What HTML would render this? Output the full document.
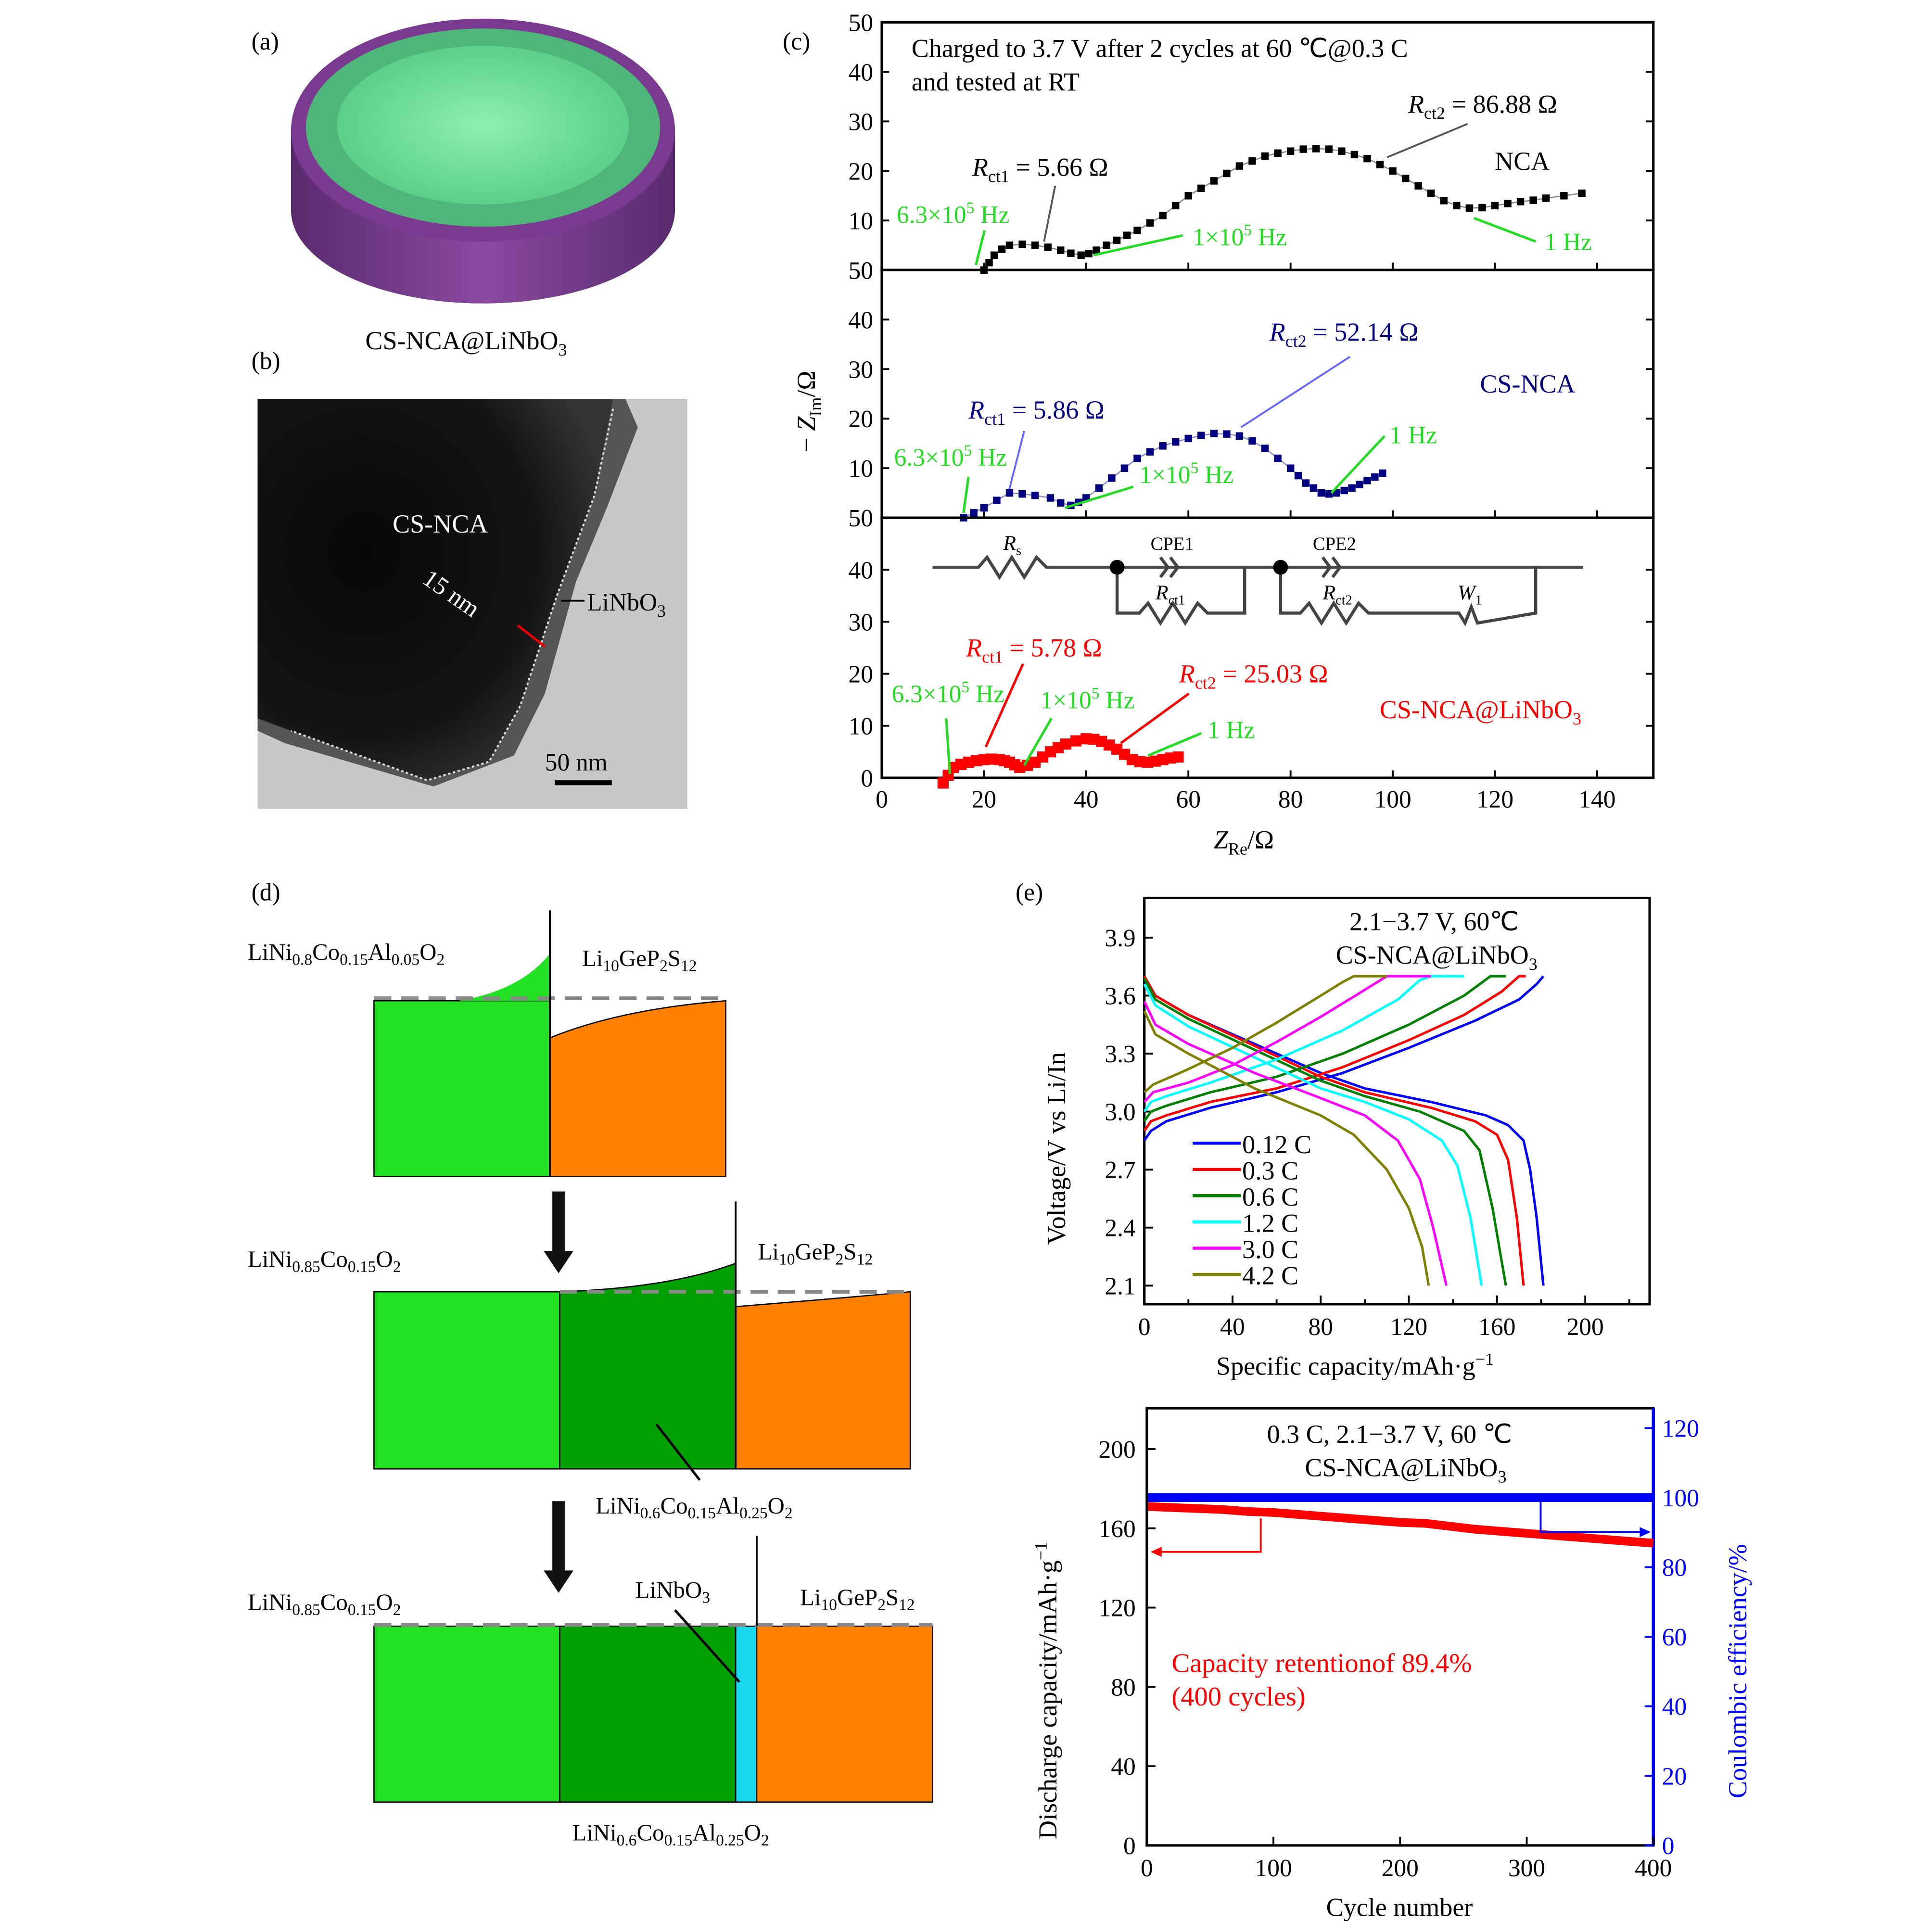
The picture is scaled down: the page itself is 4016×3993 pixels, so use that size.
<!DOCTYPE html>
<html><head><meta charset="utf-8"><style>
html,body{margin:0;padding:0;background:#fff}
svg{display:block}
text{font-family:"Liberation Serif",serif}
</style></head><body>
<svg id="s" width="4016" height="3993" viewBox="0 0 1560 1551" xmlns="http://www.w3.org/2000/svg">
<defs>
<radialGradient id="gtop" cx="50%" cy="50%" r="50%"><stop offset="0" stop-color="#8ef0b0"/><stop offset="1" stop-color="#5ccf8a"/></radialGradient>
<linearGradient id="gside" x1="0" y1="0" x2="1" y2="0"><stop offset="0" stop-color="#5a2a6e"/><stop offset="0.5" stop-color="#8a4aa0"/><stop offset="1" stop-color="#5a2a6e"/></linearGradient>
<radialGradient id="tem" cx="30%" cy="40%" r="70%"><stop offset="0" stop-color="#080808"/><stop offset="0.7" stop-color="#141414"/><stop offset="1" stop-color="#333"/></radialGradient>
</defs>
<!-- (a) -->
<text x="203" y="40" font-size="20">(a)</text>
<g>
<path d="M235,105 L235,170 A155,75 0 0 0 545,170 L545,105 Z" fill="url(#gside)"/>
<ellipse cx="390" cy="105" rx="155" ry="90" fill="#7a3a90"/>
<ellipse cx="390" cy="103" rx="143" ry="80" fill="#4fb67a"/>
<ellipse cx="390" cy="101" rx="118" ry="64" fill="url(#gtop)"/>
</g>
<text x="295" y="282" font-size="21">CS-NCA@LiNbO<tspan font-size="14" dy="5">3</tspan></text>
<!-- (b) -->
<text x="203" y="298" font-size="20">(b)</text>
<g>
<rect x="208" y="322" width="347" height="331" fill="#c8c8c8"/>
<path d="M208,322 L505,322 L515,345 L490,410 L465,470 L440,560 L415,610 L350,635 L230,600 L208,590 Z" fill="#555"/>
<path d="M208,322 L495,322 L480,400 L450,480 L420,570 L395,615 L345,630 L235,590 L208,580 Z" fill="url(#tem)"/>
<path d="M495,330 L480,400 L450,480 L420,570 L395,615 L345,630 L235,590" fill="none" stroke="#ddd" stroke-width="1.5" stroke-dasharray="2,2"/>
<text x="317" y="430" font-size="21" fill="#fff">CS-NCA</text>
<text x="340" y="470" font-size="20" fill="#fff" transform="rotate(35 340 470)">15 nm</text>
<line x1="418" y1="505" x2="440" y2="522" stroke="#e00" stroke-width="2"/>
<text x="474" y="493" font-size="20">LiNbO<tspan font-size="14" dy="5">3</tspan></text>
<line x1="453" y1="485" x2="472" y2="485" stroke="#000" stroke-width="1.5"/>
<text x="440" y="622" font-size="20">50 nm</text>
<rect x="448" y="630" width="46" height="4" fill="#000"/>
</g>
<!-- (c) -->
<text x="632" y="40" font-size="20">(c)</text>
<g id="eis"></g>
<!-- (d) -->
<text x="203" y="727" font-size="20">(d)</text>
<g>
<rect x="302" y="808" width="142" height="142" fill="#22e022" stroke="#000"/>
<path d="M302,808 L370,808 Q420,800 444,770 L444,808 Z" fill="#22e022"/>
<path d="M444,838 Q500,815 586,808 L586,950 L444,950 Z" fill="#ff7f00" stroke="#000"/>
<line x1="302" y1="806" x2="586" y2="806" stroke="#888" stroke-width="3" stroke-dasharray="14,8"/>
<line x1="444" y1="735" x2="444" y2="950" stroke="#000" stroke-width="1.5"/>
<text x="200" y="775" font-size="19">LiNi<tspan font-size="13" dy="4">0.8</tspan><tspan dy="-4">Co</tspan><tspan font-size="13" dy="4">0.15</tspan><tspan dy="-4">Al</tspan><tspan font-size="13" dy="4">0.05</tspan><tspan dy="-4">O</tspan><tspan font-size="13" dy="4">2</tspan></text>
<text x="470" y="780" font-size="19">Li<tspan font-size="13" dy="4">10</tspan><tspan dy="-4">GeP</tspan><tspan font-size="13" dy="4">2</tspan><tspan dy="-4">S</tspan><tspan font-size="13" dy="4">12</tspan></text>
<polygon points="446,962 456,962 456,1010 463,1010 451,1028 439,1010 446,1010" fill="#111"/>
<rect x="302" y="1043" width="150" height="143" fill="#22e022" stroke="#000"/>
<path d="M452,1043 Q540,1040 594,1020 L594,1186 L452,1186 Z" fill="#00a000" stroke="#000"/>
<path d="M594,1055 Q680,1048 735,1043 L735,1186 L594,1186 Z" fill="#ff7f00" stroke="#000"/>
<line x1="452" y1="1043" x2="735" y2="1043" stroke="#888" stroke-width="3" stroke-dasharray="14,8"/>
<line x1="594" y1="970" x2="594" y2="1186" stroke="#000" stroke-width="1.5"/>
<line x1="565" y1="1195" x2="530" y2="1150" stroke="#000" stroke-width="2"/>
<text x="200" y="1023" font-size="19">LiNi<tspan font-size="13" dy="4">0.85</tspan><tspan dy="-4">Co</tspan><tspan font-size="13" dy="4">0.15</tspan><tspan dy="-4">O</tspan><tspan font-size="13" dy="4">2</tspan></text>
<text x="612" y="1017" font-size="19">Li<tspan font-size="13" dy="4">10</tspan><tspan dy="-4">GeP</tspan><tspan font-size="13" dy="4">2</tspan><tspan dy="-4">S</tspan><tspan font-size="13" dy="4">12</tspan></text>
<text x="481" y="1222" font-size="19">LiNi<tspan font-size="13" dy="4">0.6</tspan><tspan dy="-4">Co</tspan><tspan font-size="13" dy="4">0.15</tspan><tspan dy="-4">Al</tspan><tspan font-size="13" dy="4">0.25</tspan><tspan dy="-4">O</tspan><tspan font-size="13" dy="4">2</tspan></text>
<polygon points="446,1212 456,1212 456,1268 463,1268 451,1286 439,1268 446,1268" fill="#111"/>
<rect x="302" y="1313" width="150" height="142" fill="#22e022" stroke="#000"/>
<rect x="452" y="1313" width="142" height="142" fill="#00a000" stroke="#000"/>
<rect x="594" y="1313" width="17" height="142" fill="#19d8ee" stroke="#000"/>
<rect x="611" y="1313" width="142" height="142" fill="#ff7f00" stroke="#000"/>
<line x1="302" y1="1312" x2="753" y2="1312" stroke="#888" stroke-width="3" stroke-dasharray="14,8"/>
<line x1="611" y1="1240" x2="611" y2="1313" stroke="#000" stroke-width="1.5"/>
<line x1="545" y1="1300" x2="597" y2="1358" stroke="#000" stroke-width="2"/>
<text x="200" y="1300" font-size="19">LiNi<tspan font-size="13" dy="4">0.85</tspan><tspan dy="-4">Co</tspan><tspan font-size="13" dy="4">0.15</tspan><tspan dy="-4">O</tspan><tspan font-size="13" dy="4">2</tspan></text>
<text x="513" y="1290" font-size="19">LiNbO<tspan font-size="13" dy="4">3</tspan></text>
<text x="646" y="1296" font-size="19">Li<tspan font-size="13" dy="4">10</tspan><tspan dy="-4">GeP</tspan><tspan font-size="13" dy="4">2</tspan><tspan dy="-4">S</tspan><tspan font-size="13" dy="4">12</tspan></text>
<text x="462" y="1486" font-size="19">LiNi<tspan font-size="13" dy="4">0.6</tspan><tspan dy="-4">Co</tspan><tspan font-size="13" dy="4">0.15</tspan><tspan dy="-4">Al</tspan><tspan font-size="13" dy="4">0.25</tspan><tspan dy="-4">O</tspan><tspan font-size="13" dy="4">2</tspan></text>
</g>
<!-- (e) -->
<text x="820" y="727" font-size="20">(e)</text>
<g id="volt"></g>
<g id="cyc"></g>
</svg>
<script>
// ---- EIS data ----
const nyqNCA = [[20,0],[21,1.5],[22,3],[23.5,4.2],[25,5],[27.5,5.2],[30,5],[32.5,4.6],[35,4],[37,3.4],[39,3],[40.5,3.3],[42,4],[44,5],[46,6],[48,7],[50,8],[52.5,9.5],[55,11],[57.5,13],[60,15],[62.5,16.5],[65,18],[67.5,19.5],[70,21],[72.5,22],[75,23],[77.5,23.6],[80,24],[82.5,24.4],[85,24.5],[87.5,24.4],[90,24],[92.5,23.3],[95,22.5],[97.5,21.3],[100,20],[102.5,18.5],[105,17],[107.5,15.5],[110,14],[112.5,13],[115,12.5],[117.5,12.6],[120,13],[122.5,13.4],[125,13.8],[127.5,14.1],[130,14.5],[133.5,15],[137,15.5]];
const nyqCS = [[16,0],[18,1],[20,2],[22.5,3.5],[25,5],[27.5,4.8],[30,4.5],[33,4],[35,3],[37,2.5],[38.5,3.1],[40,4],[42.5,6],[45,8],[47.5,10],[50,12],[52.5,13.3],[55,14.5],[57.5,15.3],[60,16],[62.5,16.6],[65,17],[67.5,16.9],[70,16.5],[72.5,15.5],[75,14],[77.5,12],[80,10],[81.5,8.5],[83,7],[84.5,6],[86,5],[87.5,4.8],[89,5],[90.5,5.5],[92,6],[93.5,6.7],[95,7.5],[96.5,8.2],[98,9]];
const nyqLN = [[12,-1],[13,0.5],[14,2],[15.5,2.6],[17,3],[18.5,3.3],[20,3.5],[21.5,3.6],[23,3.5],[24,3.3],[25,3],[26,2.5],[27,2],[28.5,2.4],[30,3],[31.5,4],[33,5],[34.5,5.8],[36,6.5],[38,7.1],[40,7.5],[41.5,7.4],[43,7],[44.5,6.3],[46,5.5],[47.5,4.5],[49,3.5],[50.5,3.1],[52,3],[53.5,3.2],[55,3.5],[56.5,3.8],[58,4]];
const eisXTicks = [0,20,40,60,80,100,120,140];
const eisYTicks = [0,10,20,30,40,50];
// ---- Voltage data ----
const rates = ['0.12 C','0.3 C','0.6 C','1.2 C','3.0 C','4.2 C'];
const rateColors = ['#0000ff','#ff0000','#008000','#00ffff','#ff00ff','#808000'];
const charge = [
 [[0,2.85],[3,2.9],[10,2.95],[30,3.02],[60,3.1],[90,3.2],[120,3.33],[150,3.47],[170,3.58],[178,3.66],[181,3.7]],
 [[0,2.9],[3,2.95],[10,2.98],[30,3.05],[60,3.12],[90,3.23],[120,3.37],[145,3.5],[162,3.62],[170,3.7],[173,3.7]],
 [[0,2.95],[3,3.0],[10,3.03],[30,3.1],[60,3.18],[90,3.3],[120,3.45],[145,3.6],[157,3.7],[164,3.7]],
 [[0,3.0],[3,3.05],[10,3.08],[30,3.15],[60,3.27],[90,3.42],[115,3.58],[125,3.68],[130,3.7],[145,3.7]],
 [[0,3.05],[4,3.1],[20,3.15],[40,3.24],[60,3.36],[80,3.49],[100,3.63],[110,3.7],[130,3.7]],
 [[0,3.1],[4,3.14],[20,3.22],[40,3.33],[60,3.46],[80,3.6],[90,3.67],[95,3.7],[110,3.7]]];
const discharge = [
 [[0,3.7],[5,3.6],[20,3.5],[50,3.35],[80,3.2],[100,3.12],[130,3.05],[155,2.98],[165,2.93],[172,2.85],[175,2.7],[178,2.45],[181,2.1]],
 [[0,3.7],[5,3.6],[20,3.5],[50,3.34],[80,3.18],[100,3.1],[130,3.02],[150,2.95],[160,2.88],[165,2.75],[169,2.45],[172,2.1]],
 [[0,3.69],[5,3.58],[20,3.48],[50,3.32],[80,3.16],[100,3.08],[125,3.0],[145,2.9],[152,2.8],[158,2.5],[164,2.1]],
 [[0,3.66],[5,3.55],[20,3.44],[50,3.28],[80,3.12],[100,3.05],[120,2.96],[135,2.85],[142,2.72],[148,2.45],[153,2.1]],
 [[0,3.57],[5,3.45],[20,3.35],[50,3.2],[80,3.07],[100,2.98],[115,2.85],[125,2.65],[131,2.4],[137,2.1]],
 [[0,3.52],[5,3.4],[20,3.3],[50,3.12],[80,2.98],[95,2.88],[110,2.7],[120,2.5],[126,2.3],[129,2.1]]];
const vXTicks = [0,40,80,120,160,200];
const vYTicks = [2.1,2.4,2.7,3.0,3.3,3.6,3.9];
// ---- Cycling data ----
const cycNum = [1,20,40,60,80,100,120,140,160,180,200,220,240,260,280,300,320,340,360,380,400];
const capVals = [171,170.5,170,169.5,168.5,168,167,166,165,164,163,162.5,161,159.5,158.5,157.5,156.5,155.5,154.5,153.5,152.5];
const ceVals = [100,100,100,100,100,100,100,100,100,100,100,100,100,100,100,100,100,100,100,100,100];
const cXTicks = [0,100,200,300,400];
const cYTicks = [0,40,80,120,160,200];
const cY2Ticks = [0,20,40,60,80,100,120];

const NS='http://www.w3.org/2000/svg';
function mk(p,tag,attrs,txt){const e=document.createElementNS(NS,tag);for(const k in attrs)e.setAttribute(k,attrs[k]);if(txt!==undefined)e.textContent=txt;p.appendChild(e);return e;}
function pts(arr,sx,sy){return arr.map(d=>sx(d[0]).toFixed(1)+','+sy(d[1]).toFixed(1)).join(' ');}

// EIS
(function(){
 const g=document.getElementById('eis');
 const X0=712,X1=1335; const ex=v=>X0+v*(X1-X0)/151;
 const panels=[{top:18,bot:218,data:nyqNCA,col:'#000',name:'nca'},{top:218,bot:418,data:nyqCS,col:'#000080',name:'cs-nca'},{top:418,bot:628,data:nyqLN,col:'#ff0000',name:'cs-nca-linbo3'}];
 panels.forEach((p,i)=>{
  const ey=v=>p.bot-v*(p.bot-p.top)/50;
  const r=mk(g,'rect',{x:X0,y:p.top,width:X1-X0,height:p.bot-p.top,fill:'none',stroke:'#000','stroke-width':2});
  
  
  eisYTicks.forEach(t=>{
   mk(g,'line',{x1:X0,x2:X0+6,y1:ey(t),y2:ey(t),stroke:'#000','stroke-width':1.5});
   mk(g,'line',{x1:X1,x2:X1-6,y1:ey(t),y2:ey(t),stroke:'#000','stroke-width':1.5});
   if(i<2 && t===0) return;
   if(i===2 && t===50) return;
   const lab=mk(g,'text',{x:705,y:ey(t)+7,'font-size':20,'text-anchor':'end'},t);
   
   
  });
  if(i<2){const lab=mk(g,'text',{x:705,y:p.bot+7,'font-size':20,'text-anchor':'end'},'50');
   
   }
  eisXTicks.forEach(t=>{mk(g,'line',{x1:ex(t),x2:ex(t),y1:p.bot,y2:p.bot-6,stroke:'#000','stroke-width':1.5});});
  const w=i===2?3:1;
  mk(g,'polyline',{points:pts(p.data,ex,ey),fill:'none',stroke:i===0?'#888':(i===1?'#8888cc':p.col),'stroke-width':w});
  const sz=i===2?9:6;
  p.data.forEach(d=>{const m=mk(g,'rect',{x:ex(d[0])-sz/2,y:ey(d[1])-sz/2,width:sz,height:sz,fill:p.col});
   
   });
 });
 eisXTicks.forEach(t=>{const l=mk(g,'text',{x:ex(t),y:652,'font-size':20,'text-anchor':'middle'},t);
  
  });
 g.insertAdjacentHTML('beforeend',`
 <text x="980" y="685" font-size="21" font-style="italic">Z<tspan font-size="14" dy="5" font-style="normal">Re</tspan><tspan dy="-5" font-style="normal">/Ω</tspan></text>
 <text transform="translate(658 365) rotate(-90)" font-size="21">− <tspan font-style="italic">Z</tspan><tspan font-size="14" dy="5">Im</tspan><tspan dy="-5">/Ω</tspan></text>
 <text x="736" y="46" font-size="21">Charged to 3.7 V after 2 cycles at 60 ℃@0.3 C</text>
 <text x="736" y="73" font-size="21">and tested at RT</text>
 <text x="1207" y="137" font-size="21">NCA</text>
 <text x="1137" y="91" font-size="21"><tspan font-style="italic">R</tspan><tspan font-size="14" dy="5">ct2</tspan><tspan dy="-5"> = 86.88 Ω</tspan></text>
 <line x1="1185" y1="100" x2="1120" y2="127" stroke="#555" stroke-width="1.5"/>
 <text x="785" y="142" font-size="21"><tspan font-style="italic">R</tspan><tspan font-size="14" dy="5">ct1</tspan><tspan dy="-5"> = 5.66 Ω</tspan></text>
 <line x1="852" y1="150" x2="843" y2="195" stroke="#555" stroke-width="1.5"/>
 <g fill="#22dd22" font-size="20">
 <text x="724" y="180">6.3×10<tspan font-size="13" dy="-8">5</tspan><tspan dy="8"> Hz</tspan></text>
 <text x="963" y="198">1×10<tspan font-size="13" dy="-8">5</tspan><tspan dy="8"> Hz</tspan></text>
 <text x="1247" y="202">1 Hz</text>
 <text x="722" y="376">6.3×10<tspan font-size="13" dy="-8">5</tspan><tspan dy="8"> Hz</tspan></text>
 <text x="920" y="390">1×10<tspan font-size="13" dy="-8">5</tspan><tspan dy="8"> Hz</tspan></text>
 <text x="1122" y="358">1 Hz</text>
 <text x="720" y="567">6.3×10<tspan font-size="13" dy="-8">5</tspan><tspan dy="8"> Hz</tspan></text>
 <text x="840" y="572">1×10<tspan font-size="13" dy="-8">5</tspan><tspan dy="8"> Hz</tspan></text>
 <text x="975" y="596">1 Hz</text>
 </g>
 <g stroke="#22dd22" stroke-width="2">
 <line x1="795" y1="186" x2="788" y2="214"/><line x1="955" y1="190" x2="883" y2="206"/><line x1="1240" y1="195" x2="1190" y2="176"/>
 <line x1="782" y1="385" x2="778" y2="414"/><line x1="915" y1="393" x2="860" y2="410"/><line x1="1118" y1="352" x2="1075" y2="398"/>
 <line x1="764" y1="580" x2="767" y2="625"/><line x1="849" y1="580" x2="827" y2="618"/><line x1="970" y1="592" x2="927" y2="610"/>
 </g>
 <text x="1025" y="275" font-size="21" fill="#000080"><tspan font-style="italic">R</tspan><tspan font-size="14" dy="5">ct2</tspan><tspan dy="-5"> = 52.14 Ω</tspan></text>
 <line x1="1090" y1="288" x2="1002" y2="345" stroke="#6666ff" stroke-width="1.5"/>
 <text x="1195" y="317" font-size="21" fill="#000080">CS-NCA</text>
 <text x="782" y="338" font-size="21" fill="#000080"><tspan font-style="italic">R</tspan><tspan font-size="14" dy="5">ct1</tspan><tspan dy="-5"> = 5.86 Ω</tspan></text>
 <line x1="827" y1="348" x2="815" y2="395" stroke="#6666ff" stroke-width="1.5"/>
 <g stroke="#444" stroke-width="2.5" fill="none">
 <polyline points="753,458 790,458 797,450 807,466 817,450 827,466 837,450 845,458 1040,458 1278,458"/>
 <polyline points="902,458 902,495 920,495 927,487 937,503 947,487 957,503 967,487 975,495 1005,495 1005,458"/>
 <polyline points="1034,458 1034,495 1050,495 1057,487 1067,503 1077,487 1087,503 1097,487 1105,495 1178,495 1183,503 1188,490 1193,503 1240,495 1240,458"/>
 <path d="M937,450 L943,458 L937,466 M945,450 L951,458 L945,466"/><path d="M1068,450 L1074,458 L1068,466 M1076,450 L1082,458 L1076,466"/>
 </g>
 <circle cx="902" cy="458" r="6" fill="#000"/><circle cx="1034" cy="458" r="6" fill="#000"/>
 <text x="810" y="444" font-size="17" font-style="italic">R<tspan font-size="11" dy="4" font-style="normal">s</tspan></text>
 <text x="929" y="444" font-size="15">CPE1</text><text x="1060" y="444" font-size="15">CPE2</text>
 <text x="933" y="484" font-size="17" font-style="italic">R<tspan font-size="11" dy="4" font-style="normal">ct1</tspan></text>
 <text x="1068" y="484" font-size="17" font-style="italic">R<tspan font-size="11" dy="4" font-style="normal">ct2</tspan></text>
 <text x="1177" y="484" font-size="17" font-style="italic">W<tspan font-size="11" dy="4" font-style="normal">1</tspan></text>
 <text x="780" y="530" font-size="21" fill="#ff0000"><tspan font-style="italic">R</tspan><tspan font-size="14" dy="5">ct1</tspan><tspan dy="-5"> = 5.78 Ω</tspan></text>
 <line x1="826" y1="536" x2="796" y2="603" stroke="#ff0000" stroke-width="2"/>
 <text x="952" y="551" font-size="21" fill="#ff0000"><tspan font-style="italic">R</tspan><tspan font-size="14" dy="5">ct2</tspan><tspan dy="-5"> = 25.03 Ω</tspan></text>
 <line x1="960" y1="560" x2="905" y2="600" stroke="#ff0000" stroke-width="2"/>
 <text x="1114" y="580" font-size="21" fill="#ff0000">CS-NCA@LiNbO<tspan font-size="14" dy="5">3</tspan></text>`);
})();

// Voltage
(function(){
 const g=document.getElementById('volt');
 const X0=924,X1=1332,Y0=1053,Y1=725;
 const vx=v=>X0+v*1.78; const vy=v=>1038-(v-2.1)*156.1;
 mk(g,'rect',{x:X0,y:Y1,width:X1-X0,height:Y0-Y1,fill:'none',stroke:'#000','stroke-width':2});
 for(let t=0;t<=220;t+=20){mk(g,'line',{x1:vx(t),x2:vx(t),y1:Y0,y2:Y0-(t%40?4:7),stroke:'#000','stroke-width':1.5});}
 vXTicks.forEach(t=>{const l=mk(g,'text',{x:vx(t),y:1078,'font-size':20,'text-anchor':'middle'},t);
  
  });
 vYTicks.forEach(t=>{mk(g,'line',{x1:X0,x2:X0+7,y1:vy(t),y2:vy(t),stroke:'#000','stroke-width':1.5});
  const l=mk(g,'text',{x:917,y:vy(t)+7,'font-size':20,'text-anchor':'end'},t.toFixed(1));
  
  });
 rates.forEach((r,i)=>{
  const c=mk(g,'polyline',{points:pts(charge[i],vx,vy),fill:'none',stroke:rateColors[i],'stroke-width':2});
  
  
  const d=mk(g,'polyline',{points:pts(discharge[i],vx,vy),fill:'none',stroke:rateColors[i],'stroke-width':2});
  
  
  const ly=929+i*21.2;
  mk(g,'line',{x1:963,x2:1002,y1:ly-6,y2:ly-6,stroke:rateColors[i],'stroke-width':2.5});
  const t=mk(g,'text',{x:1003,y:ly+2,'font-size':21},r);
  
  
 });
 g.insertAdjacentHTML('beforeend',`
 <text x="1158" y="751" font-size="21" text-anchor="middle">2.1−3.7 V, 60℃</text>
 <text x="1160" y="778" font-size="21" text-anchor="middle">CS-NCA@LiNbO<tspan font-size="14" dy="5">3</tspan></text>
 <text x="982" y="1110" font-size="21">Specific capacity/mAh·g<tspan font-size="14" dy="-8">−1</tspan></text>
 <text transform="translate(860 1005) rotate(-90)" font-size="21">Voltage/V vs Li/In</text>`);
})();

// Cycling
(function(){
 const g=document.getElementById('cyc');
 const X0=926,X1=1335,Y0=1490,Y1=1137;
 const cx=v=>X0+v*(X1-X0)/400; const cy=v=>Y0-v*1.6; const cy2=v=>Y0-v*2.808;
 mk(g,'rect',{x:X0,y:Y1,width:X1-X0,height:Y0-Y1,fill:'none',stroke:'#000','stroke-width':2});
 mk(g,'line',{x1:X1,x2:X1,y1:Y1,y2:Y0,stroke:'#0000ff','stroke-width':2.5});
 cXTicks.forEach(t=>{mk(g,'line',{x1:cx(t),x2:cx(t),y1:Y0,y2:Y0-7,stroke:'#000','stroke-width':1.5});
  const l=mk(g,'text',{x:cx(t),y:1515,'font-size':20,'text-anchor':'middle'},t);
  
  });
 cYTicks.forEach(t=>{mk(g,'line',{x1:X0,x2:X0+7,y1:cy(t),y2:cy(t),stroke:'#000','stroke-width':1.5});
  const l=mk(g,'text',{x:917,y:cy(t)+7,'font-size':20,'text-anchor':'end'},t);
  
  });
 cY2Ticks.forEach(t=>{mk(g,'line',{x1:X1,x2:X1-7,y1:cy2(t),y2:cy2(t),stroke:'#0000ff','stroke-width':1.5});
  const l=mk(g,'text',{x:1342,y:cy2(t)+7,'font-size':20,fill:'#0000ff'},t);
  
  });
 const ce=mk(g,'polyline',{points:pts(cycNum.map((c,i)=>[c,ceVals[i]]),cx,cy2),fill:'none',stroke:'#0000ff','stroke-width':7});
 
 
 const cap=mk(g,'polyline',{points:pts(cycNum.map((c,i)=>[c,capVals[i]]),cx,cy),fill:'none',stroke:'#ff0000','stroke-width':7});
 
 
 g.insertAdjacentHTML('beforeend',`
 <polyline points="1018,1226 1018,1253 934,1253" fill="none" stroke="#ff0000" stroke-width="1.5"/><polygon points="929,1253 938,1249 938,1257" fill="#ff0000"/>
 <polyline points="1244,1212 1244,1237 1328,1237" fill="none" stroke="#0000ff" stroke-width="1.5"/><polygon points="1333,1237 1324,1233 1324,1241" fill="#0000ff"/>
 <text x="1122" y="1165" font-size="21" text-anchor="middle">0.3 C, 2.1−3.7 V, 60 ℃</text>
 <text x="1135" y="1192" font-size="21" text-anchor="middle">CS-NCA@LiNbO<tspan font-size="14" dy="5">3</tspan></text>
 <text x="946" y="1350" font-size="22" fill="#ff0000">Capacity retentionof 89.4%</text>
 <text x="946" y="1377" font-size="22" fill="#ff0000">(400 cycles)</text>
 <text x="1130" y="1547" font-size="21" text-anchor="middle">Cycle number</text>
 <text transform="translate(853 1485) rotate(-90)" font-size="21">Discharge capacity/mAh·g<tspan font-size="14" dy="-8">−1</tspan></text>
 <text transform="translate(1410 1452) rotate(-90)" font-size="21" fill="#0000ff">Coulombic efficiency/%</text>`);
})();
</script>
</body></html>
